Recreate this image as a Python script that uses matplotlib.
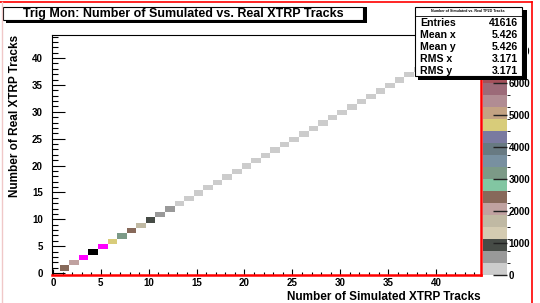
import numpy as np
import matplotlib
matplotlib.use("Agg")
import matplotlib.pyplot as plt
from matplotlib.colors import ListedColormap, BoundaryNorm
from matplotlib.patches import Rectangle
from matplotlib.lines import Line2D
from matplotlib.transforms import Bbox

# data (diagonal: simulated == real)
tracks = np.arange(1, 45)
counts = [2400, 2050, 6900, 7300, 6800, 4700, 3150, 2450, 1650, 900, 550, 420,
          320, 260, 210, 170, 140, 115, 95, 80, 68, 58, 50, 43, 37, 32, 28, 24,
          21, 18, 16, 14, 12, 10, 9, 8, 7, 6, 5, 4, 4, 3, 3, 2]
stat_names = ["Entries", "Mean x", "Mean y", "RMS x", "RMS y"]
stat_values = ["41616", "5.426", "5.426", "3.171", "3.171"]
z_ticks = [0, 1000, 2000, 3000, 4000, 5000, 6000, 7000]
z_max = 7500

palette = ["#cccccc", "#999999", "#464b46", "#d4cbb1", "#c0b9a3", "#c0a2a0",
           "#87695a", "#82c6a2", "#7c9a87", "#7890a0", "#687a82", "#7a7aa0",
           "#d8cc7a", "#c3a283", "#b18c93", "#9c6a78", "#a4505a", "#c03838",
           "#ff00ff", "#000000"]

plt.rcParams["font.family"] = "Liberation Sans"
plt.rcParams["font.weight"] = "bold"
plt.rcParams["axes.labelweight"] = "bold"

W, H = 540, 303
def fx(x):
    return x / W
def fy(y):
    return 1 - y / H

fig = plt.figure(figsize=(5.4, 3.03), dpi=100)
ax = fig.add_axes([fx(52), fy(275), (481 - 52) / W, (275 - 35) / H])

grid = np.zeros((len(tracks), len(tracks)))
for i, c in enumerate(counts):
    grid[i, i] = c
grid = np.ma.masked_equal(grid, 0)
xedges = np.append(tracks, tracks[-1] + 1) - 0.3
yedges = np.append(tracks, tracks[-1] + 1) - 0.6

cmap = ListedColormap(palette)
norm = BoundaryNorm(np.linspace(0, z_max, len(palette) + 1), len(palette))
mesh = ax.pcolormesh(xedges, yedges, grid, cmap=cmap, norm=norm)

ax.set_xlim(-0.1, 44.7)
ax.set_ylim(-0.37, 44.3)
ax.set_xticks(np.arange(0, 45, 5))
ax.set_yticks(np.arange(0, 45, 5))
ax.set_xticks(np.arange(0, 45, 1), minor=True)
ax.set_yticks(np.arange(0, 45, 1), minor=True)
ax.tick_params(axis="x", which="major", direction="in", length=4.5, width=0.8,
               labelsize=7, pad=2)
ax.tick_params(axis="x", which="minor", direction="in", length=2.5, width=0.8)
ax.tick_params(axis="y", which="major", direction="in", length=9, width=0.8,
               labelsize=7, pad=6.5)
ax.tick_params(axis="y", which="minor", direction="in", length=4.5, width=0.8)

ax.spines["bottom"].set_color("red")
ax.spines["bottom"].set_linewidth(1.8)
ax.spines["right"].set_color("red")
ax.spines["right"].set_linewidth(1.8)
ax.spines["top"].set_linewidth(0.8)
ax.spines["left"].set_linewidth(0.8)

ax.set_xlabel("Number of Simulated XTRP Tracks", fontsize=8.5, loc="right", labelpad=2)
ax.set_ylabel("Number of Real XTRP Tracks", fontsize=8.5, loc="top", labelpad=8)

# colour scale
cax = fig.add_axes([fx(483), fy(275), 24 / W, (275 - 35) / H])
cb = fig.colorbar(mesh, cax=cax, ticks=z_ticks)
cb.outline.set_visible(False)
cb.ax.set_yticklabels([str(t) for t in z_ticks])
cax.tick_params(direction="in", length=10, width=1, color="#222222",
                labelsize=7, pad=1)
# the top label peeks out only right of the stats box
clip = Bbox.from_extents(528, 0, 532, H)
for lab in cax.get_yticklabels():
    lab.set_clip_on(True)
    if lab.get_text() == "7000":
        lab.set_clip_box(clip)

# title box
fig.patches.append(Rectangle((fx(6), fy(23)), (367 - 6) / W, 16 / H,
                             transform=fig.transFigure, facecolor="black",
                             edgecolor="none", zorder=5))
fig.patches.append(Rectangle((fx(3), fy(20)), (363 - 3) / W, 13 / H,
                             transform=fig.transFigure, facecolor="white",
                             edgecolor="black", linewidth=0.8, zorder=6))
fig.text(fx(183), fy(13.5), "Trig Mon: Number of Sumulated vs. Real XTRP Tracks",
         fontsize=9, ha="center", va="center", zorder=7)

# stats box
fig.patches.append(Rectangle((fx(418), fy(80)), (527 - 418) / W, (80 - 10) / H,
                             transform=fig.transFigure, facecolor="black",
                             edgecolor="none", zorder=5))
fig.patches.append(Rectangle((fx(415), fy(76)), (522 - 415) / W, (76 - 7) / H,
                             transform=fig.transFigure, facecolor="white",
                             edgecolor="black", linewidth=0.8, zorder=6))
fig.lines.append(Line2D([fx(415), fx(522)], [fy(16), fy(16)],
                        transform=fig.transFigure, color="black", lw=0.6, zorder=7))
fig.text(fx(468), fy(11.5), "Number of Simulated vs. Real TP2D Tracks",
         fontsize=2.6, ha="center", va="center", zorder=7)
for k, (name, val) in enumerate(zip(stat_names, stat_values)):
    y = 23 + k * 12
    fig.text(fx(420), fy(y), name, fontsize=7.6, ha="left", va="center", zorder=7)
    fig.text(fx(518), fy(y), val, fontsize=7.6, ha="right", va="center", zorder=7)

# pad border (selected pad highlighted in red) and clipping on the right
fig.patches.append(Rectangle((fx(532), 0), (W - 532) / W, 1,
                             transform=fig.transFigure, facecolor="white",
                             edgecolor="none", zorder=8))
fig.lines.append(Line2D([fx(0), fx(532)], [fy(2), fy(2)], transform=fig.transFigure,
                        color="red", lw=1.2, zorder=9))
fig.lines.append(Line2D([fx(532), fx(532)], [fy(2), fy(303)], transform=fig.transFigure,
                        color="red", lw=1.2, zorder=9))
fig.lines.append(Line2D([fx(2), fx(2)], [fy(2), fy(303)], transform=fig.transFigure,
                        color="#f0c8c8", lw=1.0, zorder=9))

fig.savefig("out.png", dpi=100)
